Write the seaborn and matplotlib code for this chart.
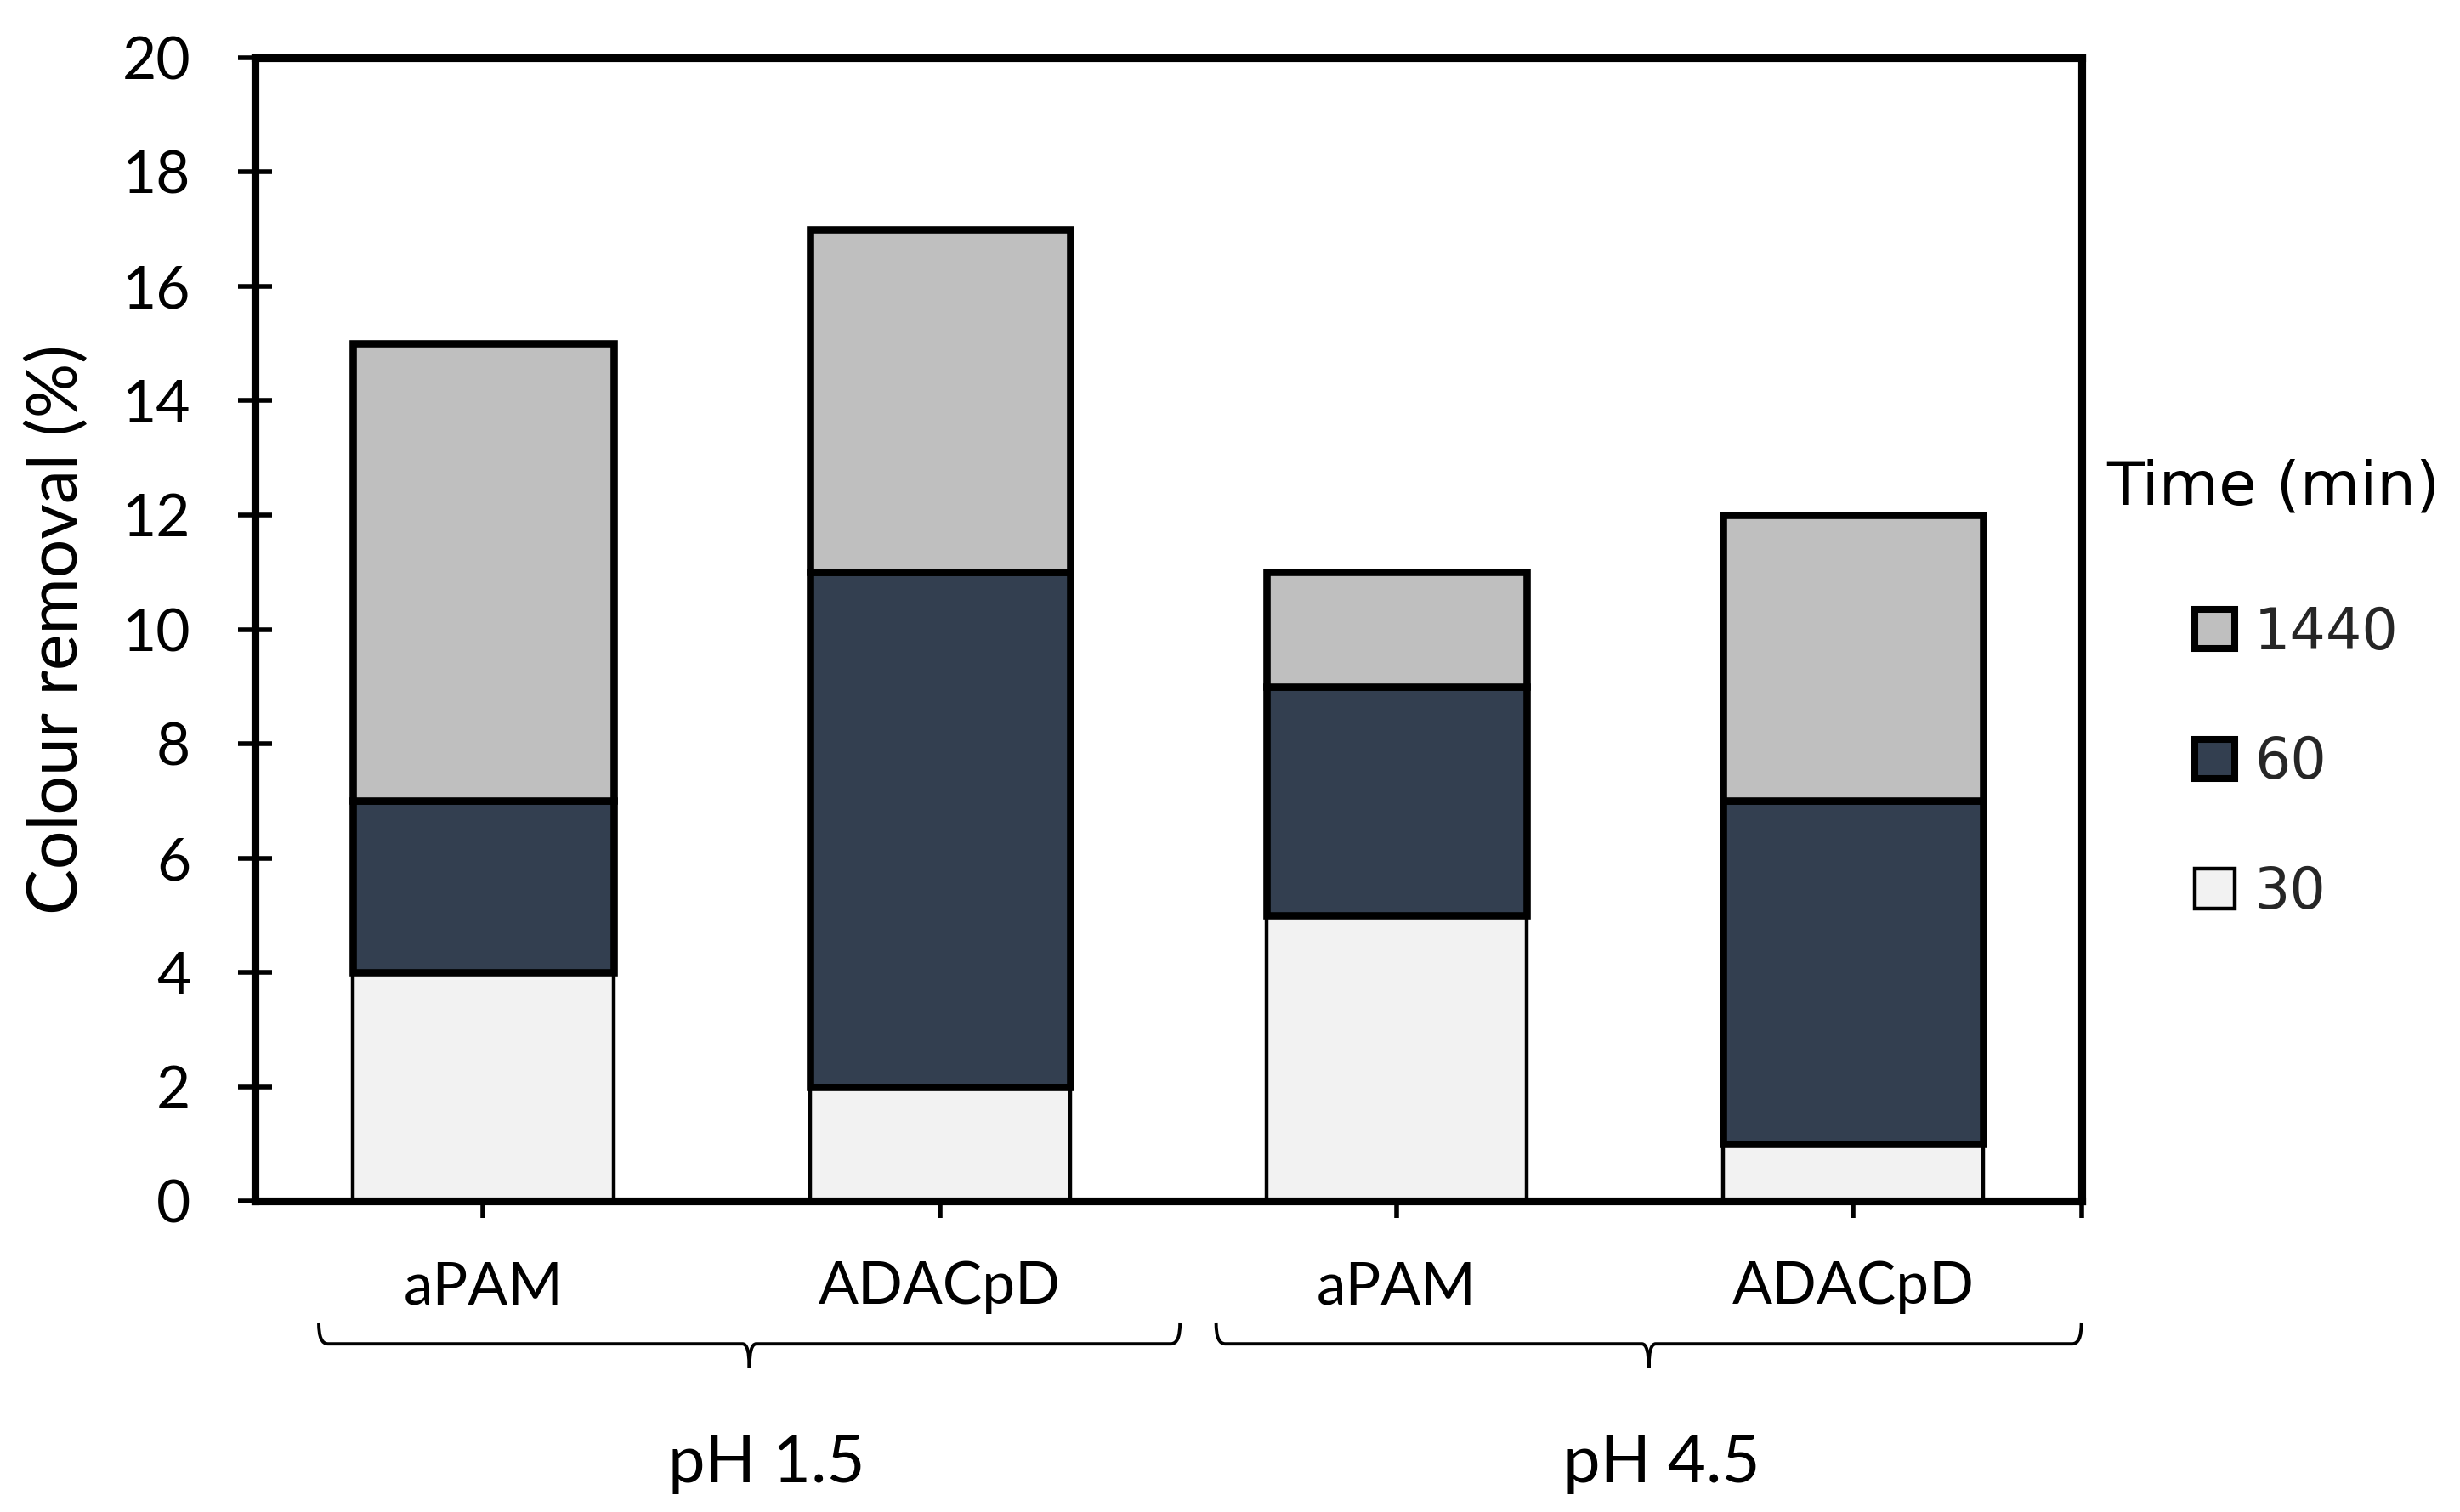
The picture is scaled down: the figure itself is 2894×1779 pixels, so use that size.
import numpy as np
import pandas as pd
import matplotlib
matplotlib.use("Agg")
import matplotlib.pyplot as plt
import seaborn as sns
from matplotlib.path import Path
from matplotlib.patches import PathPatch, Patch
import matplotlib.transforms as mtransforms

# ---- data ----
groups = ["pH 1.5", "pH 1.5", "pH 4.5", "pH 4.5"]
flocculants = ["aPAM", "ADACpD", "aPAM", "ADACpD"]
t30 = [4, 2, 5, 1]
t60 = [3, 9, 4, 6]
t1440 = [8, 6, 2, 5]
series_labels = ["30", "60", "1440"]
series_colors = ["#f2f2f2", "#333f50", "#bfbfbf"]
y_ticks = list(range(0, 21, 2))
group_labels = ["pH 1.5", "pH 4.5"]

sns.set_theme(style="white")
plt.rcParams["font.family"] = ["Lato", "DejaVu Sans"]

fig = plt.figure(figsize=(14.47, 8.895), dpi=200)
ax = fig.add_axes([0.1036, 0.2057, 0.7425, 0.7561])

keys = [f"{g} {f}" for g, f in zip(groups, flocculants)]
df = pd.DataFrame({"key": keys, "t30": t30, "t60": t60, "t1440": t1440})
bottom = np.zeros(len(keys))
series = [df["t30"].to_numpy(), df["t60"].to_numpy(), df["t1440"].to_numpy()]
edge_lw = [1.6, 3.1, 3.1]
for vals, col, lw in zip(series, series_colors, edge_lw):
    sns.barplot(x=df["key"], y=vals, order=keys, bottom=bottom.copy(), color=col,
                saturation=1, edgecolor="black", linewidth=lw, width=0.57,
                errorbar=None, ax=ax)
    bottom = bottom + vals

ax.set_xlim(-0.5, 3.5)
ax.set_ylim(0, 20)
ax.set_yticks(y_ticks)
ax.set_yticklabels([str(v) for v in y_ticks])
ax.set_xticks([0, 1, 2, 3, 3.5])
ax.set_xticklabels(flocculants + [""])
ax.set_xlabel("")
ax.set_ylabel("Colour removal (%)", fontsize=29, labelpad=14, color="black")

for s in ax.spines.values():
    s.set_visible(True)
    s.set_color("black")
    s.set_linewidth(3.3)

ax.tick_params(axis="both", which="major", bottom=True, left=True, top=False, right=False,
               direction="inout", length=14.4, width=2, colors="black", labelsize=25)
ax.tick_params(axis="x", pad=18)
ax.tick_params(axis="y", pad=20)

# ---- braces under groups ----
trans = mtransforms.blended_transform_factory(ax.transData, ax.transAxes)

def brace(x0, x1, y_line, y_top, y_tip, r=0.02, tip=0.015):
    xm = (x0 + x1) / 2
    verts = [(x0, y_top), (x0, y_line), (x0 + r, y_line),
             (xm - tip, y_line), (xm, y_line), (xm, y_tip),
             (xm, y_line), (xm + tip, y_line),
             (x1 - r, y_line), (x1, y_line), (x1, y_top)]
    codes = [Path.MOVETO, Path.CURVE3, Path.CURVE3,
             Path.LINETO, Path.CURVE3, Path.CURVE3,
             Path.CURVE3, Path.CURVE3,
             Path.LINETO, Path.CURVE3, Path.CURVE3]
    p = PathPatch(Path(verts, codes), transform=trans, fill=False, edgecolor="black",
                  linewidth=1.4, clip_on=False)
    ax.add_patch(p)

brace(-0.36, 1.526, -0.125, -0.107, -0.146)
brace(1.605, 3.5, -0.125, -0.107, -0.146)

for gx, gl in zip([0.62, 2.58], group_labels):
    ax.text(gx, -0.23, gl, transform=trans, ha="center", va="center",
            fontsize=28, color="black")

# ---- legend ----
legend_lw = [1.6, 2.9, 2.9]
handles = [Patch(facecolor=series_colors[i], edgecolor="black", linewidth=legend_lw[i])
           for i in [2, 1, 0]]
labels = [series_labels[i] for i in [2, 1, 0]]
leg = fig.legend(handles, labels, loc="upper left", bbox_to_anchor=(0.8922, 0.600),
                 frameon=False, borderpad=0, borderaxespad=0, handlelength=0.7,
                 handleheight=0.69, handletextpad=0.35, labelspacing=1.3,
                 prop={"family": "DejaVu Sans", "size": 24})
fig.text(0.8563, 0.6665, "Time (min)", ha="left", va="baseline",
         fontsize=26, family="DejaVu Sans", color="black")

fig.savefig("out.png", dpi=200, facecolor="white")
